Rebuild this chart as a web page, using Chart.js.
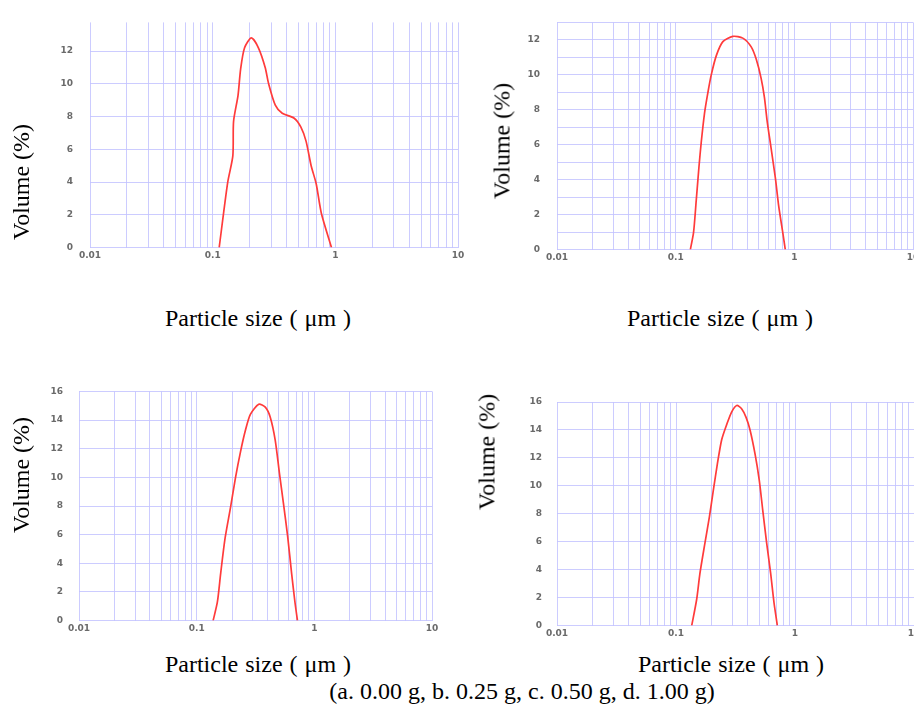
<!DOCTYPE html>
<html>
<head>
<meta charset="utf-8">
<script src="https://cdn.jsdelivr.net/npm/chart.js@4.4.1/dist/chart.umd.min.js"></script>
<style>
  html, body { margin: 0; padding: 0; background: #fff; width: 914px; height: 705px; overflow: hidden; position: relative; }
  .box { position: absolute; }
  .txt { position: absolute; font-family: "Liberation Serif", "Times New Roman", serif; color: #000; white-space: nowrap; transform: translate(-50%, -50%); }
  .ytitle { transform: translate(-50%, -50%) rotate(-90deg); }
  .ps { font-size: 24px; word-spacing: 1px; }
</style>
</head>
<body>
<div class="box" style="left:0px;top:0px;width:470px;height:270px;"><canvas id="cA"></canvas></div>
<div class="box" style="left:470px;top:0px;width:460px;height:272px;"><canvas id="cB"></canvas></div>
<div class="box" style="left:0px;top:370px;width:445px;height:272px;"><canvas id="cC"></canvas></div>
<div class="box" style="left:470px;top:370px;width:460px;height:276px;"><canvas id="cD"></canvas></div>

<div class="txt ytitle" style="left:21px;top:182px;font-size:24px;">Volume (%)</div>
<div class="txt ytitle" style="left:502px;top:141px;font-size:24px;">Volume (%)</div>
<div class="txt ytitle" style="left:21px;top:475px;font-size:24px;">Volume (%)</div>
<div class="txt ytitle" style="left:487px;top:452px;font-size:24px;">Volume (%)</div>

<div class="txt ps" style="left:258px;top:318px;">Particle size ( μm )</div>
<div class="txt ps" style="left:720px;top:318px;">Particle size ( μm )</div>
<div class="txt ps" style="left:258px;top:664px;">Particle size ( μm )</div>
<div class="txt ps" style="left:731px;top:664px;">Particle size ( μm )</div>

<div class="txt" style="left:522px;top:691px;font-size:24px;">(a. 0.00 g, b. 0.25 g, c. 0.50 g, d. 1.00 g)</div>

<script>
// ---- data ----
const xTickLabels = [0.01, 0.1, 1, 10];

const sizeA = [0.113, 0.1325, 0.146, 0.148, 0.161, 0.169, 0.182, 0.207, 0.236, 0.268, 0.286, 0.324, 0.369, 0.462, 0.524, 0.577, 0.635, 0.698, 0.769, 0.931];
const volA  = [0, 3.97, 5.6, 7.7, 9.3, 10.9, 12.2, 12.8, 12.2, 11.0, 10.0, 8.7, 8.2, 7.9, 7.35, 6.5, 5.0, 3.9, 2.1, 0];

const sizeB = [0.133, 0.1416, 0.149, 0.157, 0.164, 0.175, 0.187, 0.1995, 0.220, 0.250, 0.303, 0.368, 0.433, 0.477, 0.525, 0.560, 0.589, 0.637, 0.692, 0.738, 0.798, 0.839];
const volB  = [0, 1.0, 2.8, 4.7, 6.1, 7.8, 9.0, 10.0, 11.1, 11.9, 12.2, 12.1, 11.6, 10.9, 9.8, 8.7, 7.4, 5.8, 4.1, 2.5, 1.0, 0];

const sizeC = [0.138, 0.150, 0.160, 0.174, 0.194, 0.214, 0.236, 0.260, 0.286, 0.337, 0.383, 0.422, 0.465, 0.505, 0.546, 0.593, 0.641, 0.684, 0.719];
const volC  = [0, 1.3, 3.3, 5.7, 7.9, 10.0, 11.8, 13.3, 14.4, 15.1, 14.9, 14.2, 12.6, 10.3, 8.2, 5.9, 3.3, 1.3, 0];

const sizeD = [0.1355, 0.149, 0.159, 0.175, 0.191, 0.206, 0.223, 0.242, 0.267, 0.294, 0.324, 0.357, 0.388, 0.419, 0.461, 0.501, 0.535, 0.578, 0.624, 0.667, 0.711];
const volD  = [0, 1.85, 3.75, 5.9, 7.8, 9.7, 11.6, 13.3, 14.4, 15.3, 15.75, 15.5, 14.9, 14.0, 12.3, 10.4, 8.3, 5.9, 3.75, 1.6, 0];

const yTicksA = [0, 2, 4, 6, 8, 10, 12];
const yTicksB = [0, 1, 2, 3, 4, 5, 6, 7, 8, 9, 10, 11, 12, 13];
const yLabelsB = [0, 2, 4, 6, 8, 10, 12];
const yTicksCD = [0, 2, 4, 6, 8, 10, 12, 14, 16];

// ---- chart builder ----
const GRID = 'rgba(195,195,255,0.85)';
const TICKCOL = '#6a6a6a';
const tickFont = { family: 'DejaVu Sans', size: 9, weight: 'bold' };

function xMinorTicks() {
  const out = [];
  for (let i = 0; i < xTickLabels.length - 1; i++) {
    for (let k = 1; k <= 9; k++) out.push(+(xTickLabels[i] * k).toPrecision(6));
  }
  out.push(xTickLabels[xTickLabels.length - 1]);
  return out;
}

function isLabel(v, list) {
  return list.some(t => Math.abs(t - v) < 1e-9 * Math.max(1, t));
}

function makeChart(id, sizes, vols, cfg) {
  const pts = sizes.map((s, i) => ({ x: s, y: vols[i] }));
  new Chart(document.getElementById(id), {
    type: 'scatter',
    data: { datasets: [{
      data: pts, showLine: true, borderColor: '#ff3b3b', borderWidth: 1.7,
      pointRadius: 0, tension: 0.25, fill: false
    }]},
    options: {
      responsive: true, maintainAspectRatio: false, animation: false,
      devicePixelRatio: 1,
      plugins: { legend: { display: false }, tooltip: { enabled: false } },
      layout: { padding: { left: 0, top: cfg.padTop, right: cfg.padRight, bottom: 0 } },
      scales: {
        x: {
          type: 'logarithmic', min: 0.01, max: 10,
          afterBuildTicks: s => { s.ticks = xMinorTicks().map(v => ({ value: v })); },
          afterFit: s => { s.height = 20; },
          grid: { color: GRID, lineWidth: 1, drawTicks: false },
          border: { display: false },
          ticks: {
            autoSkip: false, maxRotation: 0, minRotation: 0, padding: 3,
            color: TICKCOL, font: tickFont,
            callback: v => isLabel(v, xTickLabels) ? String(v) : ''
          }
        },
        y: {
          min: 0, max: cfg.yMax,
          afterBuildTicks: s => { s.ticks = cfg.yTicks.map(v => ({ value: v })); },
          afterFit: s => { s.width = cfg.yWidth; },
          grid: { color: GRID, lineWidth: 1, drawTicks: false },
          border: { display: false },
          ticks: {
            autoSkip: false, padding: cfg.yPad, color: TICKCOL, font: tickFont,
            callback: v => isLabel(v, cfg.yLabels) ? String(v) : ''
          }
        }
      }
    }
  });
}

makeChart('cA', sizeA, volA, { padTop: 13, padRight: 12, yWidth: 90, yMax: 13.75, yTicks: yTicksA, yLabels: yTicksA, yPad: 17 });
makeChart('cB', sizeB, volB, { padTop: 13, padRight: 17, yWidth: 87, yMax: 13, yTicks: yTicksB, yLabels: yLabelsB, yPad: 17 });
makeChart('cC', sizeC, volC, { padTop: 21, padRight: 13, yWidth: 79, yMax: 16, yTicks: yTicksCD, yLabels: yTicksCD, yPad: 16 });
makeChart('cD', sizeD, volD, { padTop: 32, padRight: 16, yWidth: 87, yMax: 16, yTicks: yTicksCD, yLabels: yTicksCD, yPad: 15 });
</script>
</body>
</html>
